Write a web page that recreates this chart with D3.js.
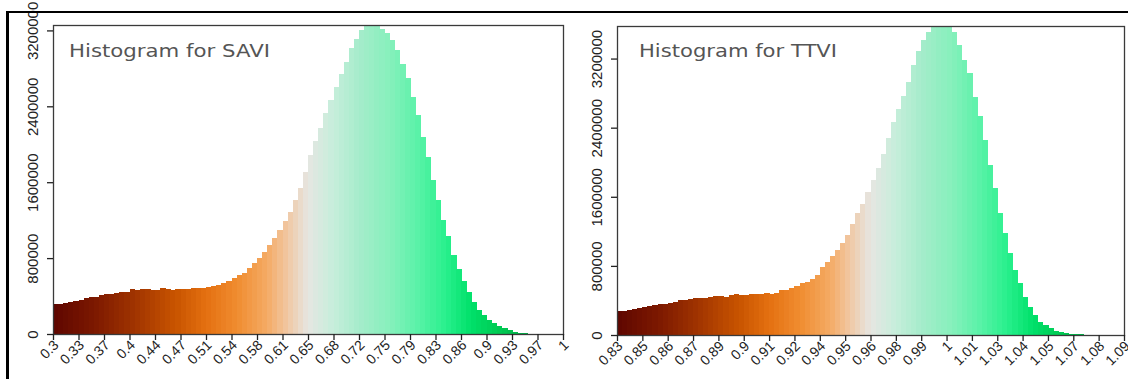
<!DOCTYPE html>
<html>
<head>
<meta charset="utf-8">
<script src="https://cdn.jsdelivr.net/npm/d3@7"></script>
<style>
  html, body { margin: 0; padding: 0; background: #fff; }
  svg { display: block; }
</style>
</head>
<body>
<svg id="chart" width="1128" height="379"></svg>
<script>
// ---------------- DATA ----------------
const saviTitle = "Histogram for SAVI";
const ttviTitle = "Histogram for TTVI";

// histogram bins (100 equal bins across each axis range)
const saviRange = [0.3, 1.0];
const ttviRange = [0.83, 1.09];

const saviCounts = [
  313000, 315000, 330000, 341000, 343000, 358000, 376000, 387000, 390000, 411000,
  418000, 420000, 429000, 439000, 446000, 471000, 464000, 474000, 476000, 466000,
  464000, 482000, 471000, 464000, 471000, 472000, 474000, 482000, 484000, 488000,
  497000, 506000, 516000, 541000, 562000, 590000, 625000, 648000, 692000, 745000,
  798000, 867000, 938000, 1010000, 1100000, 1190000, 1290000, 1410000, 1540000, 1710000,
  1890000, 2030000, 2170000, 2330000, 2470000, 2600000, 2740000, 2870000, 3010000, 3110000,
  3200000, 3260000, 3260000, 3250000, 3220000, 3170000, 3100000, 2990000, 2850000, 2700000,
  2500000, 2310000, 2080000, 1870000, 1620000, 1410000, 1200000, 1030000, 833000, 690000,
  560000, 446000, 340000, 253000, 200000, 148000, 112000, 84000, 60000, 42000,
  25000, 14000, 7000, 0, 0, 0, 0, 0, 0, 0
];

const ttviCounts = [
  282000, 283000, 290000, 297000, 318000, 322000, 336000, 345000, 357000, 360000,
  376000, 386000, 403000, 406000, 420000, 423000, 432000, 434000, 444000, 448000,
  452000, 444000, 459000, 470000, 459000, 460000, 471000, 475000, 474000, 482000,
  475000, 490000, 521000, 523000, 540000, 571000, 598000, 617000, 645000, 695000,
  783000, 849000, 915000, 984000, 1060000, 1160000, 1290000, 1410000, 1520000, 1660000,
  1790000, 1930000, 2100000, 2280000, 2470000, 2620000, 2770000, 2930000, 3130000, 3290000,
  3410000, 3510000, 3560000, 3580000, 3580000, 3560000, 3510000, 3360000, 3180000, 3030000,
  2760000, 2530000, 2260000, 1970000, 1700000, 1410000, 1180000, 946000, 753000, 598000,
  444000, 328000, 232000, 154000, 116000, 77000, 50000, 35000, 23000, 16000,
  12000, 6000, 0, 0, 0, 0, 0, 0, 0, 0
];

const yTickValues = [0, 800000, 1600000, 2400000, 3200000];

const saviTickLabels = ["0.3","0.33","0.37","0.4","0.44","0.47","0.51","0.54","0.58","0.61",
  "0.65","0.68","0.72","0.75","0.79","0.83","0.86","0.9","0.93","0.97","1"];
const ttviTickLabels = ["0.83","0.85","0.86","0.87","0.89","0.9","0.91","0.92","0.94","0.95",
  "0.96","0.98","0.99","1","1.01","1.03","1.04","1.05","1.07","1.08","1.09"];

// colour ramp (position along the axis range -> colour)
const rampStops  = [0.00, 0.08, 0.16, 0.24, 0.30, 0.36, 0.42, 0.46, 0.50, 0.55, 0.60, 0.66, 0.72, 0.77, 0.82, 0.87, 0.92, 1.00];
const rampColors = ["#5e0600","#7c1800","#a03400","#c85400","#e47010","#f08c30","#f4aa64","#f0c8a4",
                    "#e6e6e2","#c6eedb","#a6eccb","#86f0bc","#56f2a6","#28f08c","#00e06a","#00cc54","#00b448","#009038"];

// ---------------- LAYOUT ----------------
const panels = [
  { title: saviTitle, counts: saviCounts, range: saviRange, ticks: saviTickLabels,
    left: 53, top: 25, right: 563, bottom: 334, yMax: 3257000, titleX: 69, titleW: 201 },
  { title: ttviTitle, counts: ttviCounts, range: ttviRange, ticks: ttviTickLabels,
    left: 617, top: 26, right: 1124, bottom: 335, yMax: 3577000, titleX: 639, titleW: 198 }
];

const svg = d3.select("#chart");
const color = d3.scaleLinear().domain(rampStops).range(rampColors).interpolate(d3.interpolateRgb);

panels.forEach(p => {
  const g = svg.append("g");
  const n = p.counts.length;
  const binW = (p.range[1] - p.range[0]) / n;
  const x = d3.scaleLinear().domain(p.range).range([p.left, p.right]);
  const y = d3.scaleLinear().domain([0, p.yMax]).range([p.bottom, p.top]);
  const xTicks = d3.scalePoint().domain(p.ticks).range([p.left, p.right]);

  const bins = p.counts.map((c, i) => ({
    x0: p.range[0] + i * binW, x1: p.range[0] + (i + 1) * binW, c, i
  })).filter(d => d.c > 0);

  g.append("g").selectAll("rect").data(bins).join("rect")
    .attr("x", d => x(d.x0))
    .attr("width", d => x(d.x1) - x(d.x0) + 0.6)
    .attr("y", d => y(d.c))
    .attr("height", d => y(0) - y(d.c))
    .attr("fill", d => color((d.i + 0.5) / n))
    .attr("shape-rendering", "crispEdges");

  // plot box
  g.append("rect")
    .attr("x", p.left + 0.5).attr("y", p.top + 0.5)
    .attr("width", p.right - p.left).attr("height", p.bottom - p.top)
    .attr("fill", "none").attr("stroke", "#3a3a3a").attr("stroke-width", 1.3);

  // y axis
  const ya = g.append("g").attr("transform", `translate(${p.left},0)`)
    .call(d3.axisLeft(y).tickValues(yTickValues).tickSize(6).tickFormat(d3.format("d")));
  ya.select(".domain").remove();
  ya.selectAll(".tick line").attr("stroke", "#222").attr("stroke-width", 1.3);
  ya.selectAll(".tick text")
    .attr("font-family", "'Liberation Sans', Arial, sans-serif")
    .attr("font-size", 15).attr("fill", "#222")
    .attr("text-anchor", "middle")
    .attr("x", null).attr("dy", null)
    .attr("transform", "translate(-15,0) rotate(-90)");

  // x axis
  const xa = g.append("g").attr("transform", `translate(0,${p.bottom})`)
    .call(d3.axisBottom(xTicks).tickSize(6));
  xa.select(".domain").remove();
  xa.selectAll(".tick line").attr("stroke", "#222").attr("stroke-width", 1.3);
  xa.selectAll(".tick text")
    .attr("font-family", "'Liberation Sans', Arial, sans-serif")
    .attr("font-size", 14).attr("fill", "#222")
    .attr("text-anchor", "end")
    .attr("x", null).attr("y", null).attr("dy", null)
    .attr("transform", "translate(6,12) rotate(-45)");

  // title
  g.append("text")
    .attr("x", p.titleX).attr("y", 57)
    .attr("font-family", "'DejaVu Sans', Verdana, sans-serif")
    .attr("font-size", 18).attr("fill", "#555")
    .attr("textLength", p.titleW).attr("lengthAdjust", "spacingAndGlyphs")
    .text(p.title);
});

// outer frame (cut by the picture edges)
svg.append("line").attr("x1", 6).attr("x2", 1128).attr("y1", 12).attr("y2", 12)
  .attr("stroke", "#000").attr("stroke-width", 2);
svg.append("line").attr("x1", 7.5).attr("x2", 7.5).attr("y1", 11).attr("y2", 379)
  .attr("stroke", "#000").attr("stroke-width", 3);
</script>
</body>
</html>
